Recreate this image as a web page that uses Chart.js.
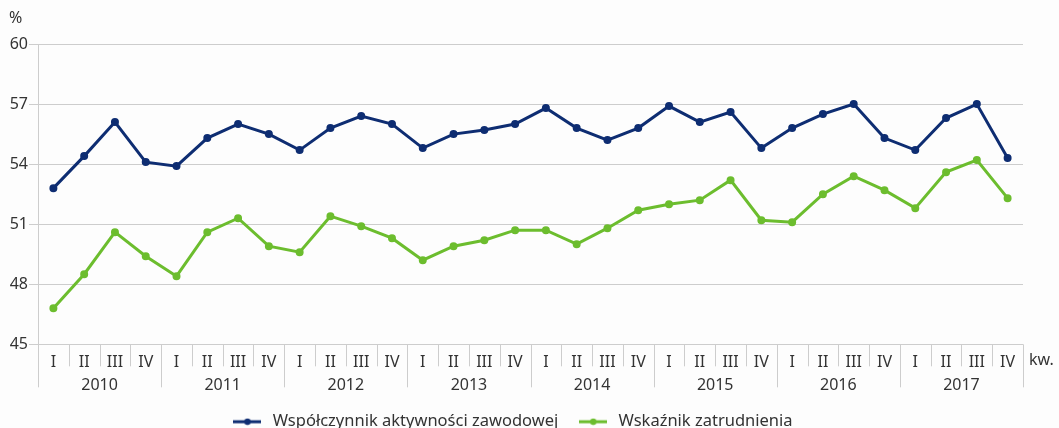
<!DOCTYPE html>
<html>
<head>
<meta charset="utf-8">
<script src="https://cdn.jsdelivr.net/npm/chart.js@4/dist/chart.umd.min.js"></script>
<style>
  html, body { margin: 0; padding: 0; background: #fdfdfd; overflow: hidden; }
  #wrap { position: relative; width: 1059px; height: 440px; }
</style>
</head>
<body>
<div id="wrap"><canvas id="chart"></canvas></div>
<script>
var quarters = ['I', 'II', 'III', 'IV'];
var years = ['2010', '2011', '2012', '2013', '2014', '2015', '2016', '2017'];
var quarterLabels = [];
years.forEach(function () { quarterLabels = quarterLabels.concat(quarters); });

var activityRate = [52.8, 54.4, 56.1, 54.1, 53.9, 55.3, 56.0, 55.5,
                    54.7, 55.8, 56.4, 56.0, 54.8, 55.5, 55.7, 56.0,
                    56.8, 55.8, 55.2, 55.8, 56.9, 56.1, 56.6, 54.8,
                    55.8, 56.5, 57.0, 55.3, 54.7, 56.3, 57.0, 54.3];
var employmentRate = [46.8, 48.5, 50.6, 49.4, 48.4, 50.6, 51.3, 49.9,
                      49.6, 51.4, 50.9, 50.3, 49.2, 49.9, 50.2, 50.7,
                      50.7, 50.0, 50.8, 51.7, 52.0, 52.2, 53.2, 51.2,
                      51.1, 52.5, 53.4, 52.7, 51.8, 53.6, 54.2, 52.3];

var BLUE = '#0e2d72';
var GREEN = '#6cbd2e';
var TEXT = '#333333';
var GRID = '#cdcdcd';
var FONT = "'Noto Sans', sans-serif";

// legend marker: short line with a dot in the middle
function legendMarker(color) {
    var c = document.createElement('canvas');
    c.width = 28; c.height = 8;
    var g = c.getContext('2d');
    g.strokeStyle = color; g.lineWidth = 3;
    g.beginPath(); g.moveTo(0, 4); g.lineTo(28, 4); g.stroke();
    g.fillStyle = color;
    g.beginPath(); g.arc(14, 4, 3.2, 0, Math.PI * 2); g.fill();
    return c;
}

var separators = {
    id: 'separators',
    afterDraw: function (chart) {
        var x = chart.scales.x;
        var ctx = chart.ctx;
        var bottom = chart.chartArea.bottom;
        var step = (x.right - x.left) / quarterLabels.length;
        ctx.save();
        ctx.strokeStyle = GRID;
        ctx.lineWidth = 1;
        for (var i = 0; i <= quarterLabels.length; i++) {
            var px = Math.round(x.left + i * step) + 0.5;
            var len = (i % 4 === 0) ? 43 : 22;
            ctx.beginPath();
            ctx.moveTo(px, bottom);
            ctx.lineTo(px, bottom + len);
            ctx.stroke();
        }
        ctx.fillStyle = TEXT;
        ctx.font = '16px ' + FONT;
        ctx.textBaseline = 'middle';
        ctx.textAlign = 'left';
        ctx.fillText('kw.', x.right + 6, bottom + 16);
        ctx.fillText('%', 9, chart.chartArea.top - 26);
        ctx.restore();
    }
};

var ctx1 = document.getElementById('chart').getContext('2d');

var chart = new Chart(ctx1, {
    type: 'line',
    data: {
        labels: quarterLabels,
        datasets: [
            {
                label: 'Współczynnik aktywności zawodowej',
                data: activityRate,
                borderColor: BLUE,
                backgroundColor: BLUE,
                borderWidth: 3,
                pointRadius: 2.5,
                pointHoverRadius: 2.5,
                tension: 0
            },
            {
                label: 'Wskaźnik zatrudnienia',
                data: employmentRate,
                borderColor: GREEN,
                backgroundColor: GREEN,
                borderWidth: 3,
                pointRadius: 2.5,
                pointHoverRadius: 2.5,
                tension: 0
            }
        ]
    },
    options: {
        responsive: true,
        maintainAspectRatio: false,
        animation: false,
        layout: { padding: { top: 44, right: 36, left: 0, bottom: 0 } },
        plugins: {
            tooltip: { enabled: false },
            legend: {
                position: 'bottom',
                labels: {
                    usePointStyle: true,
                    pointStyleWidth: 34,
                    color: TEXT,
                    font: { family: FONT, size: 16.5 },
                    padding: 18,
                    generateLabels: function (chart) {
                        return chart.data.datasets.map(function (ds, i) {
                            return {
                                text: ds.label,
                                fontColor: TEXT,
                                pointStyle: legendMarker(ds.borderColor),
                                datasetIndex: i,
                                lineWidth: 0
                            };
                        });
                    }
                }
            }
        },
        scales: {
            x: {
                type: 'category',
                offset: true,
                grid: { display: false },
                border: { display: false },
                afterFit: function (scale) { scale.height = 24; },
                ticks: {
                    color: TEXT,
                    font: { family: FONT, size: 16 },
                    padding: 1,
                    autoSkip: false,
                    maxRotation: 0
                }
            },
            x2: {
                type: 'category',
                position: 'bottom',
                labels: years,
                offset: true,
                grid: { display: false },
                border: { display: false },
                ticks: {
                    color: TEXT,
                    font: { family: FONT, size: 16 },
                    padding: 0,
                    maxRotation: 0
                }
            },
            y: {
                min: 45,
                max: 60,
                afterFit: function (scale) { scale.width = 38; },
                ticks: {
                    stepSize: 3,
                    color: TEXT,
                    font: { family: FONT, size: 16 },
                    padding: 1
                },
                grid: { color: GRID, tickLength: 9 },
                border: { display: true, color: GRID }
            }
        }
    },
    plugins: [separators]
});
</script>
</body>
</html>
